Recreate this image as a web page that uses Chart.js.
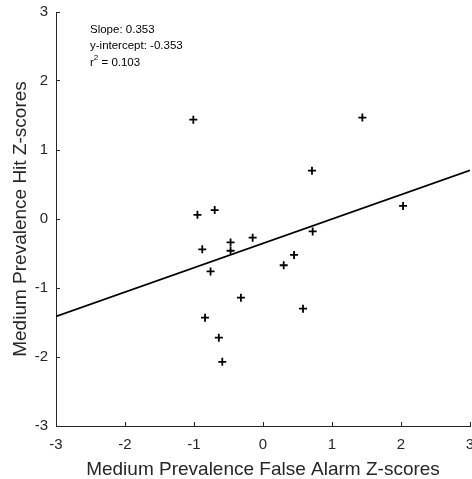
<!DOCTYPE html>
<html>
<head>
<meta charset="utf-8">
<script src="https://cdn.jsdelivr.net/npm/chart.js@4"></script>
<style>
  html, body { margin: 0; padding: 0; background: #fff; }
  canvas { display: block; }
</style>
</head>
<body>
<canvas id="scatter" width="472" height="479"></canvas>
<script>
// ── Data: medium prevalence z-scores, one entry per participant ──
const FA_Z  = [-1.01, -0.95, -0.70, -0.88, -0.47, -0.47, -0.15, -0.76, 0.30, 0.45,
               -0.32, -0.84, -0.64, -0.59, 1.44, 0.71, 2.03, 0.72, 0.58];
const HIT_Z = [1.44, 0.06, 0.13, -0.44, -0.34, -0.46, -0.27, -0.76, -0.67, -0.52,
               -1.14, -1.43, -1.72, -2.07, 1.47, 0.70, 0.19, -0.18, -1.30];

// regression fit
const SLOPE = 0.353;
const INTERCEPT = -0.353;
const R_SQ = 0.103;
const FIT_X = [-3, 3];

const AXIS_TICKS = [-3, -2, -1, 0, 1, 2, 3];

// ── Shared styling ──
const C_AXIS = '#262626';
const FONT = 'Arial, "Liberation Sans", Helvetica, sans-serif';

const points = FA_Z.map((x, i) => ({ x, y: HIT_Z[i] }));
const fitLine = FIT_X.map(x => ({ x, y: SLOPE * x + INTERCEPT }));

// fixed axis boxes so the plot area sits where we want it
function fixY(scale) { scale.width = 56; scale.paddingTop = 0; scale.paddingBottom = 0; }
function fixX(scale) { scale.height = 53; scale.paddingLeft = 0; scale.paddingRight = 0; }

function axisOptions(title, fitFn, tickPadding, titlePad) {
  return {
    type: 'linear',
    min: AXIS_TICKS[0],
    max: AXIS_TICKS[AXIS_TICKS.length - 1],
    afterBuildTicks: s => { s.ticks = AXIS_TICKS.map(v => ({ value: v })); },
    afterFit: fitFn,
    border: { display: true, color: C_AXIS, width: 1 },
    grid: { drawOnChartArea: false, drawTicks: true, tickLength: -4, color: C_AXIS, lineWidth: 1 },
    ticks: { color: C_AXIS, padding: tickPadding, font: { family: FONT, size: 15 } },
    title: {
      display: true,
      text: title,
      color: C_AXIS,
      padding: titlePad,
      font: { family: FONT, size: 19, lineHeight: 1 },
    },
  };
}

// ── Fit statistics in the top-left corner ──
const statsLabel = {
  id: 'statsLabel',
  afterDraw(chart) {
    const { ctx, chartArea } = chart;
    const x = chartArea.left + 34;
    const y0 = chartArea.top + 18;
    ctx.save();
    ctx.fillStyle = '#000';
    ctx.textBaseline = 'middle';
    ctx.textAlign = 'left';
    ctx.font = '11.5px ' + FONT;
    ctx.fillText('Slope: ' + SLOPE.toFixed(3), x, y0);
    ctx.fillText('y-intercept: ' + INTERCEPT.toFixed(3), x, y0 + 16);
    const y2 = y0 + 33;
    ctx.fillText('r', x, y2);
    let w = ctx.measureText('r').width;
    ctx.font = '8px ' + FONT;
    ctx.fillText('2', x + w, y2 - 5);
    w += ctx.measureText('2').width;
    ctx.font = '11.5px ' + FONT;
    ctx.fillText(' = ' + R_SQ.toFixed(3), x + w, y2);
    ctx.restore();
  }
};

new Chart(document.getElementById('scatter'), {
  type: 'scatter',
  data: {
    datasets: [
      {
        label: 'Participants',
        data: points,
        pointStyle: 'cross',
        pointRadius: 4,
        pointBorderWidth: 1.8,
        borderColor: '#000',
        backgroundColor: '#000',
      },
      {
        type: 'line',
        label: 'Fit',
        data: fitLine,
        borderColor: '#000',
        borderWidth: 1.6,
        pointRadius: 0,
        fill: false,
      }
    ]
  },
  options: {
    responsive: false,
    animation: false,
    layout: { autoPadding: false, padding: { top: 12, right: 2, left: 0, bottom: 0 } },
    plugins: {
      legend: { display: false },
      tooltip: { enabled: false },
    },
    scales: {
      x: axisOptions('Medium Prevalence False Alarm Z-scores', fixX, 14, { bottom: 0 }),
      y: axisOptions('Medium Prevalence Hit Z-scores', fixY, 12, { top: 11 }),
    }
  },
  plugins: [statsLabel]
});
</script>
</body>
</html>
